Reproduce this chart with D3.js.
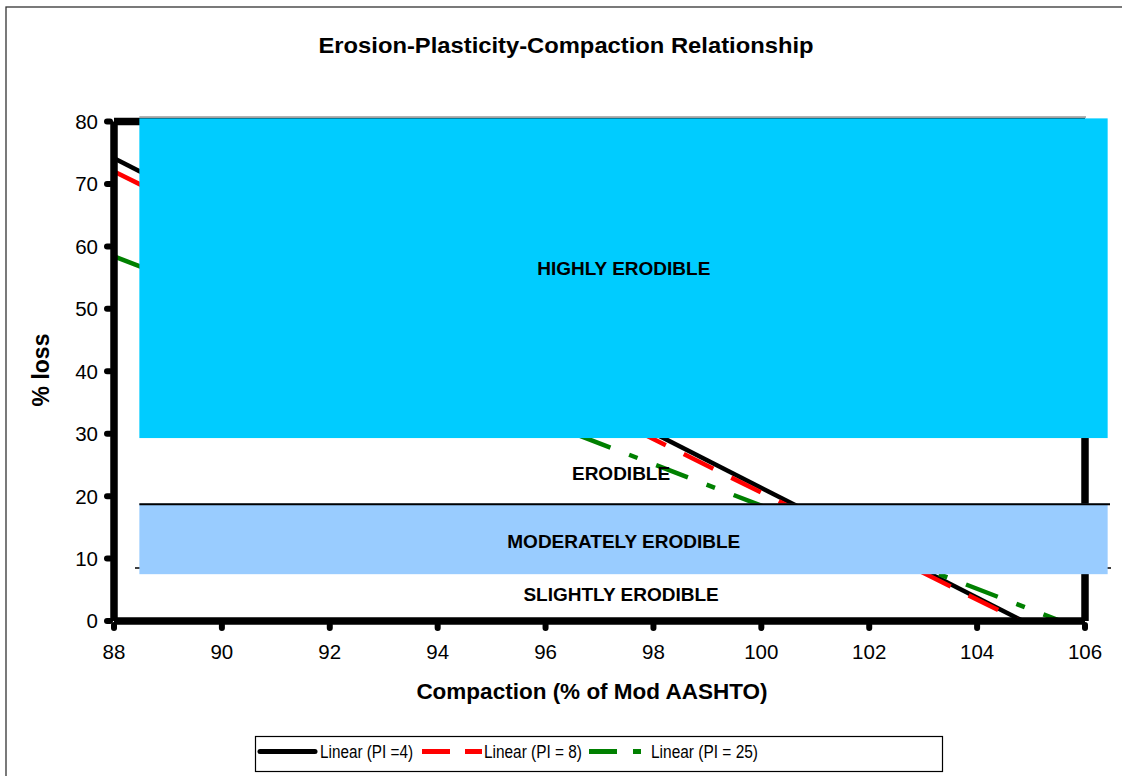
<!DOCTYPE html>
<html><head><meta charset="utf-8">
<script src="https://cdn.jsdelivr.net/npm/d3@7"></script>
<style>
body{margin:0;background:#fff}
svg{display:block}
text{font-family:"Liberation Sans",Arial,Helvetica,sans-serif;fill:#000}
</style>
</head><body>
<svg id="chart" width="1122" height="776"></svg>
<script>
// ---- data ----
const chartTitle = "Erosion-Plasticity-Compaction Relationship";
const xTitle = "Compaction (% of Mod AASHTO)";
const yTitle = "% loss";
const xTicks = [88, 90, 92, 94, 96, 98, 100, 102, 104, 106];
const yTicks = [0, 10, 20, 30, 40, 50, 60, 70, 80];
const seriesNames = ["Linear (PI =4)", "Linear (PI = 8)", "Linear (PI = 25)"];
const seriesColors = ["#000000", "#FF0000", "#008000"];
const pi4X = [88, 104.85];  const pi4Y = [74.1, 0];
const pi8X = [88, 104.8];   const pi8Y = [72.0, 0];
const pi25X = [88, 105.55]; const pi25Y = [58.4, 0];
const bandLow = [29.3, 7.5];
const bandHigh = [80.5, 18.8];
const bandColors = ["#00CCFF", "#99CCFF"];
const bandX = [88.47, 106.42];
const boundaryValues = [18.7, 8.5];
const zoneLabels = ["HIGHLY ERODIBLE", "ERODIBLE", "MODERATELY ERODIBLE", "SLIGHTLY ERODIBLE"];
const zoneX = [97.45, 97.4, 97.45, 97.4];
const zoneY = [56.5, 23.7, 12.8, 4.3];

// ---- layout ----
const svg = d3.select("#chart");
const x = d3.scaleLinear().domain([88, 106]).range([114, 1085]);
const y = d3.scaleLinear().domain([0, 80]).range([621, 121.5]);

svg.append("rect").attr("width", 1122).attr("height", 776).attr("fill", "#fff");
// outer border
svg.append("rect").attr("x", 6).attr("y", 7).attr("width", 1130).attr("height", 790)
  .attr("fill", "none").attr("stroke", "#333").attr("stroke-width", 1.3);

// title
svg.append("text").attr("x", 566).attr("y", 53).attr("text-anchor", "middle")
  .attr("font-size", 22).attr("font-weight", "bold")
  .attr("textLength", 495).attr("lengthAdjust", "spacingAndGlyphs").text(chartTitle);

// series
const series = [
  {xs: pi4X, ys: pi4Y, dash: null},
  {xs: pi8X, ys: pi8Y, dash: "33 20"},
  {xs: pi25X, ys: pi25Y, dash: "34 20 9 20"}
];
const line = d3.line().x(d => x(d[0])).y(d => y(d[1]));
series.forEach((s, i) => {
  const pts = d3.zip(s.xs, s.ys);
  svg.append("path").attr("d", line(pts)).attr("fill", "none")
    .attr("stroke", seriesColors[i]).attr("stroke-width", 4.5)
    .attr("stroke-dasharray", s.dash);
});

// frame (thick)
const frame = svg.append("g").attr("stroke", "#000").attr("stroke-width", 7.5).attr("fill", "none");
frame.append("line").attr("x1", x(88)).attr("x2", x(106)).attr("y1", y(80)).attr("y2", y(80));
frame.append("line").attr("x1", x(106)).attr("x2", x(106)).attr("y1", y(80)).attr("y2", y(0));
frame.append("line").attr("x1", x(88)).attr("x2", x(88)).attr("y1", y(80)).attr("y2", y(0));
frame.append("line").attr("x1", x(88)).attr("x2", x(106)).attr("y1", y(0)).attr("y2", y(0));

// ticks
const tk = svg.append("g").attr("stroke", "#000").attr("stroke-width", 6).attr("stroke-linecap", "round");
yTicks.forEach(v => tk.append("line").attr("x1", x(88) - 4).attr("x2", x(88) - 7).attr("y1", y(v)).attr("y2", y(v)));
xTicks.forEach(v => tk.append("line").attr("y1", y(0) + 4).attr("y2", y(0) + 7).attr("x1", x(v)).attr("x2", x(v)));

// tick labels
svg.append("g").selectAll("text").data(yTicks).join("text")
  .attr("x", 98).attr("y", d => y(d)).attr("dy", "0.36em").attr("text-anchor", "end")
  .attr("font-size", 20.5).text(d => d);
svg.append("g").selectAll("text").data(xTicks).join("text")
  .attr("x", d => x(d)).attr("y", 659).attr("text-anchor", "middle")
  .attr("font-size", 20.5).text(d => d);

// lower boundary line (beneath band)
svg.append("line").attr("x1", 135).attr("x2", 1111).attr("y1", y(boundaryValues[1])).attr("y2", y(boundaryValues[1]))
  .attr("stroke", "#000").attr("stroke-width", 1.5);

// top grey line
svg.append("line").attr("x1", x(bandX[0])).attr("x2", x(106) + 1).attr("y1", 117).attr("y2", 117)
  .attr("stroke", "#999").attr("stroke-width", 1.5);

// bands
bandLow.forEach((lo, i) => {
  svg.append("rect").attr("x", x(bandX[0])).attr("width", x(bandX[1]) - x(bandX[0]))
    .attr("y", y(bandHigh[i])).attr("height", y(lo) - y(bandHigh[i]))
    .attr("fill", bandColors[i]);
});

// upper boundary line (on top)
svg.append("line").attr("x1", x(bandX[0])).attr("x2", 1110).attr("y1", y(boundaryValues[0])).attr("y2", y(boundaryValues[0]))
  .attr("stroke", "#000").attr("stroke-width", 1.8);

// zone labels
svg.append("g").selectAll("text").data(zoneLabels).join("text")
  .attr("x", (d, i) => x(zoneX[i])).attr("y", (d, i) => y(zoneY[i])).attr("dy", "0.36em")
  .attr("text-anchor", "middle").attr("font-size", 19).attr("font-weight", "bold").text(d => d);

// axis titles
svg.append("text").attr("x", 592).attr("y", 699).attr("text-anchor", "middle")
  .attr("font-size", 22.5).attr("font-weight", "bold").text(xTitle);
svg.append("text").attr("transform", "translate(49,370) rotate(-90)").attr("text-anchor", "middle")
  .attr("font-size", 23).attr("font-weight", "bold").text(yTitle);

// legend
const lg = svg.append("g");
lg.append("rect").attr("x", 255.5).attr("y", 736.5).attr("width", 687).attr("height", 35)
  .attr("fill", "#fff").attr("stroke", "#000").attr("stroke-width", 1.2);
const legendStart = [260, 422, 589];
const legendDash = [null, "28 15", "28 16 8 16"];
const legendText = [320, 484, 651];
const legendLen = [93, 98, 107];
seriesNames.forEach((n, i) => {
  lg.append("line").attr("x1", legendStart[i]).attr("x2", legendStart[i] + (i === 0 ? 55 : 60))
    .attr("y1", 751.5).attr("y2", 751.5).attr("stroke", seriesColors[i]).attr("stroke-width", 5)
    .attr("stroke-linecap", i === 0 ? "round" : "butt").attr("stroke-dasharray", legendDash[i]);
  lg.append("text").attr("x", legendText[i]).attr("y", 751.5).attr("dy", "0.36em")
    .attr("font-size", 17.5).attr("textLength", legendLen[i]).attr("lengthAdjust", "spacingAndGlyphs").text(n);
});
</script>
</body></html>
